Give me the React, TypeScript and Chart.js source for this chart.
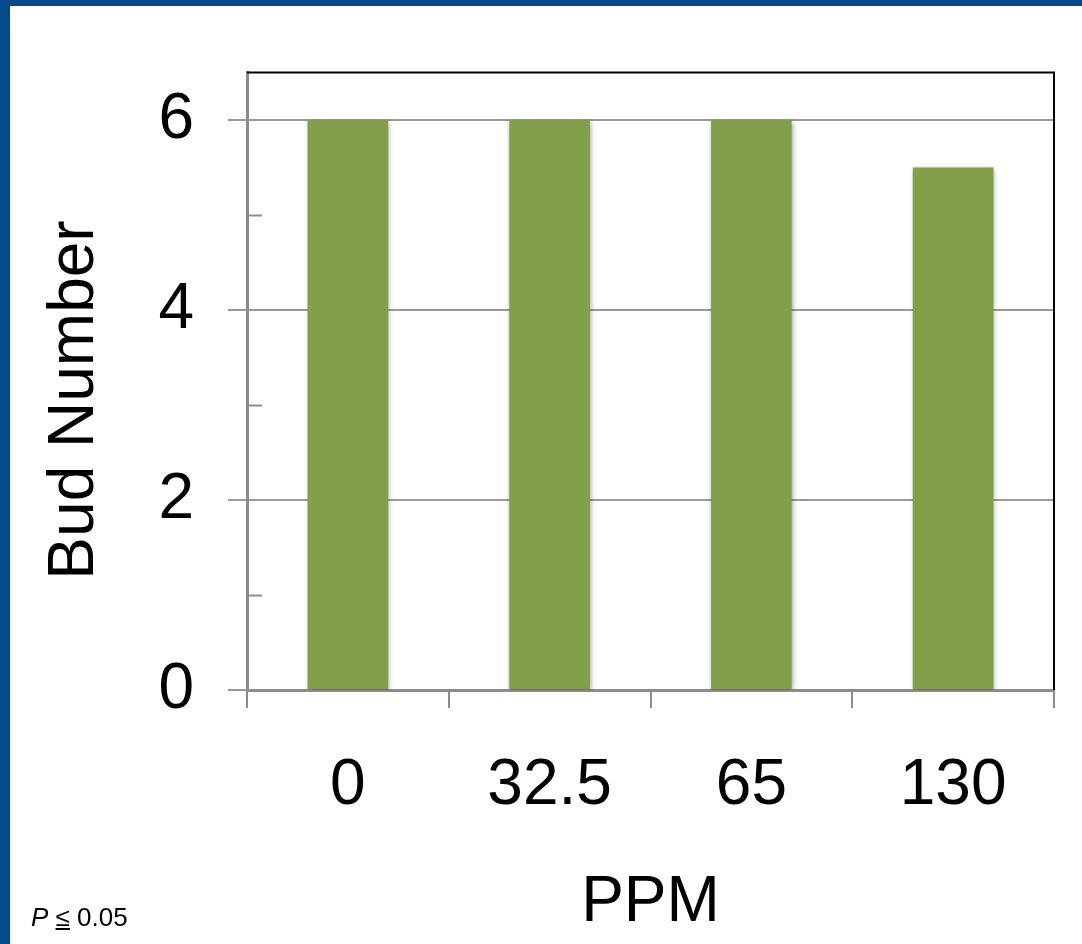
import React, { useEffect, useRef } from "react";
import { Chart, registerables } from "chart.js";

Chart.register(...registerables);

const categories = ["0", "32.5", "65", "130"];
const budNumber = [6, 6, 6, 5.5];
const yMajorTicks = [0, 2, 4, 6];
const yMinorTicks = [1, 3, 5];
const yAllTicks = [0, 1, 2, 3, 4, 5, 6];
const yTitle = "Bud Number";
const xTitle = "PPM";

const FONT = "'Liberation Sans', Arial, Helvetica, sans-serif";

const framePlugin = {
  id: "frameAndMinor",
  beforeDatasetsDraw(chart: any) {
    const ctx = chart.ctx;
    ctx.save();
    ctx.shadowColor = "rgba(0,0,0,0.35)";
    ctx.shadowBlur = 5;
    ctx.shadowOffsetX = 1;
    ctx.shadowOffsetY = 2;
  },
  afterDatasetsDraw(chart: any) {
    chart.ctx.restore();
  },
  afterDraw(chart: any) {
    const { ctx, chartArea, scales } = chart;
    const y = scales.y;
    ctx.save();
    // minor ticks inward
    ctx.strokeStyle = "#8c8c8c";
    ctx.lineWidth = 2;
    yMinorTicks.forEach((v) => {
      const py = Math.round(y.getPixelForValue(v)) + 0.5;
      ctx.beginPath();
      ctx.moveTo(chartArea.left, py);
      ctx.lineTo(chartArea.left + 15, py);
      ctx.stroke();
    });
    // top and right black border
    ctx.strokeStyle = "#000000";
    ctx.lineWidth = 2;
    ctx.beginPath();
    ctx.moveTo(chartArea.left, chartArea.top);
    ctx.lineTo(chartArea.right, chartArea.top);
    ctx.lineTo(chartArea.right, chartArea.bottom);
    ctx.stroke();
    // y axis title
    ctx.fillStyle = "#000000";
    ctx.font = `64px ${FONT}`;
    ctx.textAlign = "center";
    ctx.textBaseline = "middle";
    ctx.translate(75, 400);
    ctx.rotate(-Math.PI / 2);
    ctx.fillText(yTitle, 0, 0);
    ctx.restore();
  },
};

export default function App() {
  const ref = useRef<HTMLCanvasElement | null>(null);

  useEffect(() => {
    if (!ref.current) return;
    const chart = new Chart(ref.current, {
      type: "bar",
      data: {
        labels: categories,
        datasets: [
          {
            label: yTitle,
            data: budNumber,
            backgroundColor: "#82A04A",
            borderWidth: 0,
            barPercentage: 0.4,
            categoryPercentage: 1,
          },
        ],
      },
      plugins: [framePlugin],
      options: {
        animation: false,
        responsive: false,
        devicePixelRatio: 1,
        layout: { padding: { top: 72, right: 28, left: 0, bottom: 0 } },
        plugins: {
          legend: { display: false },
          tooltip: { enabled: false },
        },
        scales: {
          x: {
            type: "category",
            offset: true,
            grid: {
              offset: true,
              drawOnChartArea: false,
              drawTicks: true,
              tickLength: 18,
              color: "#8c8c8c",
              lineWidth: 2,
            },
            border: { display: true, color: "#8c8c8c", width: 3 },
            ticks: {
              color: "#000000",
              font: { family: FONT, size: 64 },
              padding: 40,
              maxRotation: 0,
            },
            title: {
              display: true,
              text: xTitle,
              color: "#000000",
              font: { family: FONT, size: 64 },
              padding: { top: 0, bottom: 2 },
            },
            afterFit(scale: any) {
              scale.height = 254;
            },
          },
          y: {
            type: "linear",
            min: 0,
            max: 6.5,
            afterBuildTicks(scale: any) {
              scale.ticks = yAllTicks.map((v) => ({ value: v }));
            },
            grid: {
              drawTicks: true,
              tickLength: 19,
              color: (c: any) =>
                c.tick && yMajorTicks.includes(c.tick.value) ? "#9a9a9a" : "rgba(0,0,0,0)",
              lineWidth: 2,
            },
            border: { display: true, color: "#8c8c8c", width: 3 },
            ticks: {
              color: "#000000",
              font: { family: FONT, size: 64 },
              padding: 34,
              callback: (v: any) => (yMajorTicks.includes(Number(v)) ? String(v) : ""),
            },
            title: { display: false },
            afterFit(scale: any) {
              scale.width = 247;
            },
          },
        },
      },
    } as any);
    return () => chart.destroy();
  }, []);

  return (
    <div
      style={{
        position: "absolute",
        left: 0,
        top: 0,
        width: 1082,
        height: 944,
        background: "#ffffff",
        overflow: "hidden",
      }}
    >
      <canvas ref={ref} width={1082} height={944} style={{ position: "absolute", left: 0, top: 0 }} />
      <div style={{ position: "absolute", left: 0, top: 0, width: 1082, height: 6, background: "#044A8A" }} />
      <div style={{ position: "absolute", left: 0, top: 0, width: 10, height: 944, background: "#044A8A" }} />
      <div
        style={{
          position: "absolute",
          left: 31,
          top: 902,
          fontFamily: FONT,
          fontSize: 26,
          color: "#000000",
          lineHeight: "30px",
          whiteSpace: "nowrap",
        }}
      >
        <span style={{ fontStyle: "italic" }}>P</span>{" "}
        <span style={{ textDecoration: "underline" }}>≤</span> 0.05
      </div>
    </div>
  );
}
